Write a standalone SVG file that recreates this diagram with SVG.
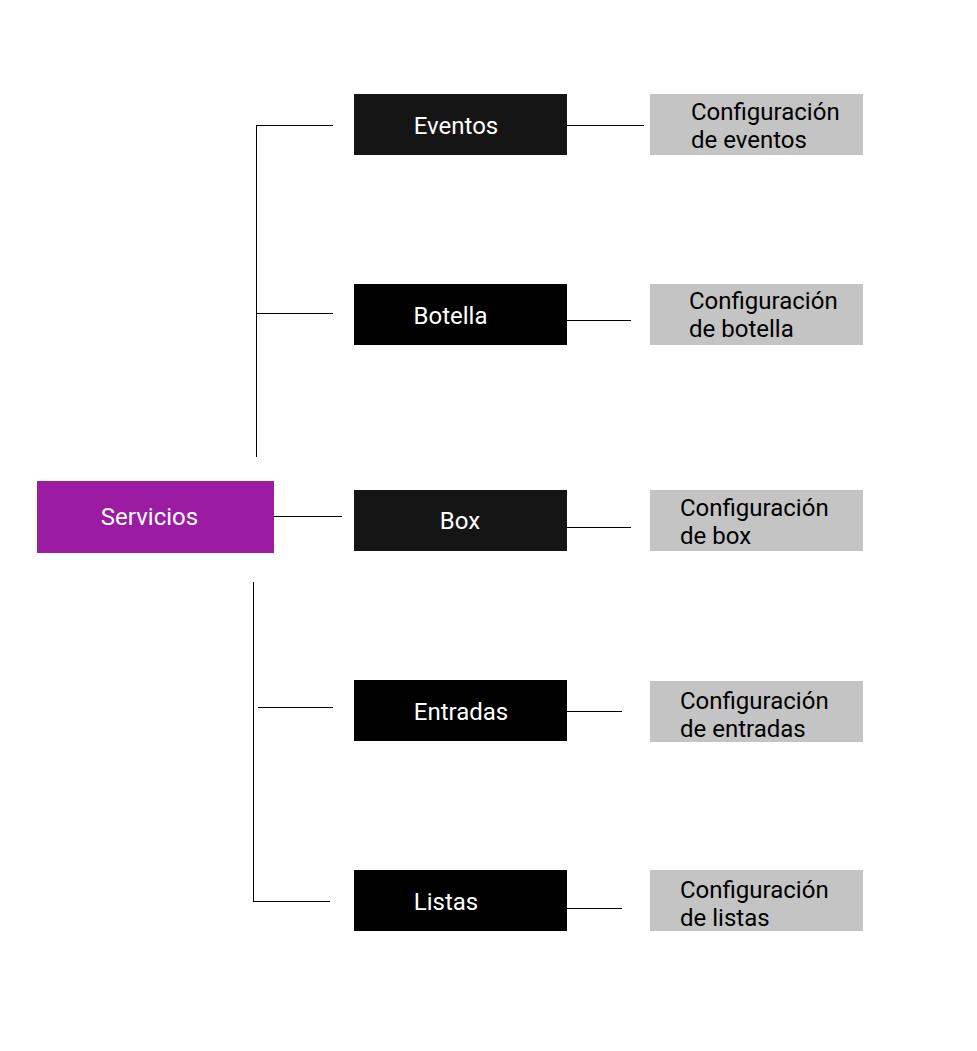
<svg xmlns="http://www.w3.org/2000/svg" width="977" height="1051" viewBox="0 0 977 1051">
<style>
.dark{fill:#151515}
.black{fill:#000}
.gray{fill:#c4c4c4}
.purple{fill:#9b1ba3}
.lt{font-family:Roboto,"Liberation Sans",sans-serif;font-size:24px;fill:#fff;text-anchor:middle}
.gt{font-family:Roboto,"Liberation Sans",sans-serif;font-size:24px;fill:#000}
.c{stroke:#000;stroke-width:1;fill:none}
</style>
<rect width="977" height="1051" fill="#fff"/>
<g id="connectors">
<path class="c" d="M256.5 125V457M256 125.5H333M257 313.5H333"/>
<path class="c" d="M253.5 582V901M258 707.5H333M253 901.5H330"/>
<path class="c" d="M265 516.5H342"/>
<path class="c" d="M567 125.5H644M567 320.5H631M554 527.5H631M567 711.5H622M567 908.5H622"/>
</g>
<g id="servicios"><rect class="purple" x="37" y="481" width="237" height="72"/><text class="lt" x="149.5" y="524.5">Servicios</text></g>
<g id="eventos"><rect class="dark" x="354" y="94" width="213" height="61"/><text class="lt" x="456" y="133.5">Eventos</text></g>
<g id="botella"><rect class="black" x="354" y="284" width="213" height="61"/><text class="lt" x="450.5" y="323.5">Botella</text></g>
<g id="box"><rect class="dark" x="354" y="490" width="213" height="61"/><text class="lt" x="460" y="528.5">Box</text></g>
<g id="entradas"><rect class="black" x="354" y="680" width="213" height="61"/><text class="lt" x="461" y="719.5">Entradas</text></g>
<g id="listas"><rect class="black" x="354" y="870" width="213" height="61"/><text class="lt" x="446" y="909.5">Listas</text></g>
<g id="conf-eventos"><rect class="gray" x="650" y="94" width="213" height="61"/><text class="gt" x="691" y="119.5">Configuración</text><text class="gt" x="691" y="147.5">de eventos</text></g>
<g id="conf-botella"><rect class="gray" x="650" y="284" width="213" height="61"/><text class="gt" x="689" y="308.5">Configuración</text><text class="gt" x="689" y="336.5">de botella</text></g>
<g id="conf-box"><rect class="gray" x="650" y="490" width="213" height="61"/><text class="gt" x="680" y="515.5">Configuración</text><text class="gt" x="680" y="543.5">de box</text></g>
<g id="conf-entradas"><rect class="gray" x="650" y="681" width="213" height="61"/><text class="gt" x="680" y="708.5">Configuración</text><text class="gt" x="680" y="736.5">de entradas</text></g>
<g id="conf-listas"><rect class="gray" x="650" y="870" width="213" height="61"/><text class="gt" x="680" y="897.5">Configuración</text><text class="gt" x="680" y="925.5">de listas</text></g>
</svg>
